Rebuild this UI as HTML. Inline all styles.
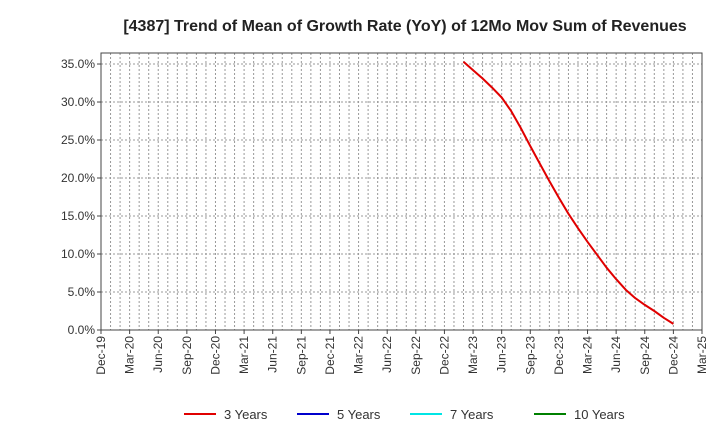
<!DOCTYPE html>
<html><head><meta charset="utf-8"><style>
body{margin:0;background:#fff;font-family:"Liberation Sans",sans-serif;}
svg text{font-family:"Liberation Sans",sans-serif;}
</style></head><body>
<svg width="720" height="440" xmlns="http://www.w3.org/2000/svg">
<text x="405" y="31" text-anchor="middle" font-size="16" font-weight="bold" fill="#222">[4387]  Trend of Mean of Growth Rate (YoY) of 12Mo Mov Sum of Revenues</text>
<g id="grid"></g>
<g id="axes"></g>
<g id="series"></g>
<g id="legend"></g>
</svg>
<script>
const xTickLabels=["Dec-19","Mar-20","Jun-20","Sep-20","Dec-20","Mar-21","Jun-21","Sep-21","Dec-21","Mar-22","Jun-22","Sep-22","Dec-22","Mar-23","Jun-23","Sep-23","Dec-23","Mar-24","Jun-24","Sep-24","Dec-24","Mar-25"];
const yTicks=[0,5,10,15,20,25,30,35];
const startMonth=38; // months after Dec-19 (Feb-23)
const series3y=[35.3,34.2,33.1,31.9,30.6,28.8,26.6,24.2,21.9,19.6,17.4,15.3,13.4,11.6,9.9,8.2,6.7,5.3,4.2,3.3,2.5,1.6,0.8];
const legendNames=["3 Years","5 Years","7 Years","10 Years"];
const legendColors=["#e00000","#0000cc","#00e5e5","#008000"];
const NS="http://www.w3.org/2000/svg";
const L=101,R=702,T=53,B=330,yMax=36.45,totalMonths=63;
const xs=m=>L+(R-L)*m/totalMonths;
const ys=v=>B-(B-T)*v/yMax;
function mk(tag,attrs,parent){const e=document.createElementNS(NS,tag);for(const k in attrs)e.setAttribute(k,attrs[k]);parent.appendChild(e);return e;}
const grid=document.getElementById('grid'),axes=document.getElementById('axes'),ser=document.getElementById('series'),leg=document.getElementById('legend');
for(let m=1;m<totalMonths;m++){const l=mk('line',{x1:xs(m),x2:xs(m),y1:T,y2:B,stroke:'#999','stroke-width':1,'stroke-dasharray':'2,2'},grid);

}
yTicks.forEach(v=>{if(v>0){const l=mk('line',{x1:L,x2:R,y1:ys(v),y2:ys(v),stroke:'#999','stroke-width':1,'stroke-dasharray':'2,2'},grid);

}
const t=mk('text',{x:L-6,y:ys(v)+4,'text-anchor':'end','font-size':12,fill:'#333'},axes);t.textContent=v.toFixed(1)+'%';


mk('line',{x1:L-4,x2:L,y1:ys(v),y2:ys(v),stroke:'#444'},axes);});
const frame=mk('rect',{x:L,y:T,width:R-L,height:B-T,fill:'none',stroke:'#444','stroke-width':1},axes);


xTickLabels.forEach((s,i)=>{const x=xs(i*3);mk('line',{x1:x,x2:x,y1:B,y2:B+4,stroke:'#444'},axes);
const t=mk('text',{x:x+4,y:B+6,'text-anchor':'end','font-size':12,fill:'#333',transform:`rotate(-90 ${x+4} ${B+6})`},axes);t.textContent=s;

});
const pts=series3y.map((v,i)=>xs(startMonth+i).toFixed(1)+','+ys(v).toFixed(1)).join(' ');
const pl=mk('polyline',{points:pts,fill:'none',stroke:'#e00000','stroke-width':2,'stroke-linejoin':'round'},ser);


const lx=[184,297,410,534];
legendNames.forEach((n,i)=>{const g=mk('g',{},leg);


mk('line',{x1:lx[i],x2:lx[i]+32,y1:414,y2:414,stroke:legendColors[i],'stroke-width':2},g);
const t=mk('text',{x:lx[i]+40,y:419,'font-size':13,fill:'#333'},g);t.textContent=n;});
</script>
</body></html>
